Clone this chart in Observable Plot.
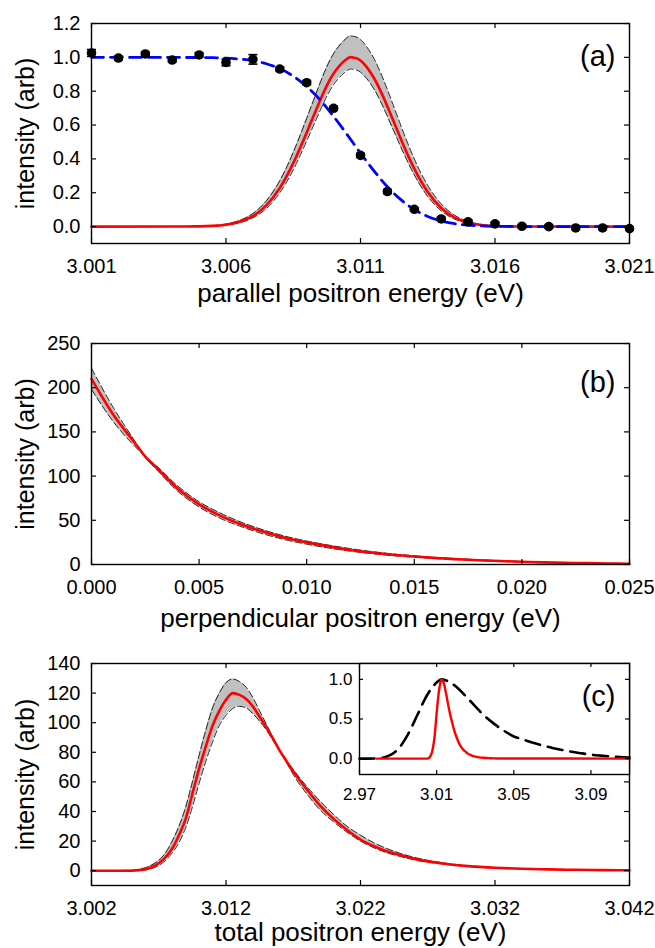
<!DOCTYPE html>
<html><head><meta charset="utf-8">
<script src="https://cdn.jsdelivr.net/npm/d3@7"></script>
<script src="https://cdn.jsdelivr.net/npm/@observablehq/plot@0.6"></script>
<style>
body{margin:0;background:#fff}
#wrap{position:relative;width:655px;height:948px;overflow:hidden;background:#fff}
#wrap>div,#wrap>svg{position:absolute}
</style>
</head><body><div id="wrap"></div>
<script>
// ---------- Panel (a): parallel energy ----------
const aTicksX = [3.001, 3.006, 3.011, 3.016, 3.021];
const aTicksY = [0, 0.2, 0.4, 0.6, 0.8, 1.0, 1.2];
const aPointX = [3.001,3.002,3.003,3.004,3.005,3.006,3.007,3.008,3.009,3.010,3.011,3.012,3.013,3.014,3.015,3.016,3.017,3.018,3.019,3.020,3.021];
const aPointY = [1.026,0.996,1.02,0.984,1.014,0.97,0.988,0.931,0.85,0.699,0.421,0.207,0.102,0.045,0.028,0.016,0.002,0.0,-0.008,-0.008,-0.012];
const aPointErr = [0.02,0.012,0.012,0.012,0.012,0.02,0.028,0.012,0.012,0.012,0.012,0.012,0.01,0.01,0.01,0.01,0.01,0.01,0.01,0.01,0.01];
const aCurveX = [3.001,3.004,3.0045,3.005,3.0055,3.006,3.0065,3.007,3.0075,3.008,3.0085,3.009,3.0095,3.010,3.0105,3.0107,3.011,3.0115,3.012,3.0125,3.013,3.0135,3.014,3.0145,3.015,3.0155,3.016,3.0165,3.017,3.021];
const aRed   = [0,0.0001,0.0004,0.0014,0.004,0.011,0.028,0.062,0.125,0.228,0.375,0.556,0.747,0.905,0.992,1.0,0.982,0.878,0.71,0.518,0.342,0.204,0.11,0.053,0.024,0.009,0.003,0.001,0.0003,0];
const aUpper = [0,0.0002,0.0006,0.002,0.0057,0.015,0.036,0.077,0.152,0.271,0.439,0.64,0.849,1.022,1.116,1.125,1.105,0.993,0.809,0.597,0.4,0.243,0.134,0.067,0.03,0.0125,0.0047,0.0016,0.0005,0];
const aLower = [0,0.0001,0.0003,0.001,0.0031,0.0089,0.0225,0.052,0.107,0.2,0.335,0.506,0.686,0.839,0.922,0.93,0.912,0.813,0.651,0.47,0.305,0.178,0.093,0.044,0.0188,0.0072,0.0025,0.0008,0.0002,0];
const aFitX = [3.001,3.005,3.0055,3.006,3.0065,3.007,3.0075,3.008,3.0085,3.009,3.0095,3.010,3.0105,3.011,3.0115,3.012,3.0125,3.013,3.0135,3.014,3.0145,3.015,3.0155,3.016,3.0165,3.017,3.021];
const aFitY = [1.0,0.999,0.998,0.9955,0.99,0.98,0.962,0.933,0.889,0.827,0.748,0.651,0.544,0.434,0.329,0.235,0.159,0.101,0.06,0.033,0.017,0.0084,0.0038,0.0016,0.0006,0.0002,0];

// ---------- Panel (b): perpendicular energy ----------
const bTicksX = [0, 0.005, 0.010, 0.015, 0.020, 0.025];
const bTicksY = [0, 50, 100, 150, 200, 250];
const bX   = [0,0.001,0.002,0.0025,0.003,0.004,0.005,0.006,0.007,0.008,0.009,0.010,0.011,0.012,0.013,0.014,0.015,0.016,0.017,0.018,0.019,0.020,0.021,0.022,0.023,0.024,0.025];
const bRed = [210,170,138,122,110,86,68,55,45,37,30,25,20.5,16.5,13.5,11,9,7.3,6,4.8,3.9,3.1,2.4,1.9,1.5,1.2,0.9];
const bEdgeA = [222,178,140,121,108,83,65,52,42.5,34.5,28,23,18.7,15.2,12.3,10,8.2,6.6,5.4,4.3,3.5,2.8,2.2,1.8,1.4,1.1,0.9];
const bEdgeB = [198,162,134,122,112,89,71,58,47.5,39,32,26.5,22,18,14.7,12,9.8,8,6.6,5.3,4.3,3.4,2.7,2.1,1.7,1.3,1.0];

// ---------- Panel (c): total energy ----------
const cTicksX = [3.002, 3.012, 3.022, 3.032, 3.042];
const cTicksY = [0, 20, 40, 60, 80, 100, 120, 140];
const cX = [3.002,3.005,3.0055,3.006,3.0065,3.007,3.0075,3.008,3.0085,3.009,3.0095,3.010,3.0105,3.011,3.0115,3.012,3.0125,3.013,3.0135,3.014,3.0145,3.015,3.0155,3.016,3.0165,3.017,3.0175,3.018,3.019,3.020,3.021,3.022,3.023,3.024,3.025,3.026,3.027,3.028,3.029,3.030,3.032,3.034,3.036,3.038,3.040,3.042];
const cRed = [0,0,0.3,1,2.5,5,9,15,24,35,52,69,84,98,108,115.5,120,118.8,116,111,104,97,89,81,74,67,61,55,44,35,27.5,21,16.5,13,10.5,8,6.3,5,3.9,3.1,2,1.3,0.9,0.6,0.4,0.3];
const cUpper = [0,0.3,1,2,4,7,12,20,30,43,60,78,95,110,120,127,129.5,127.8,124,117,108,99,90,81,73,65,58,52,41,33,26,20,15.5,12,9.5,7.4,5.8,4.6,3.6,2.9,1.8,1.2,0.8,0.5,0.35,0.25];
const cLower = [0,0,0.1,0.5,1.5,3.5,7,12,19,29,43,59,74,87,98,105,109.5,111,110,106,101,95,88,81,74.5,68.5,62.5,57,47,38,30,24,18.8,14.8,11.6,9,7,5.5,4.3,3.4,2.2,1.4,0.95,0.65,0.45,0.3];

// ---------- Inset of (c) ----------
const insTicksX = [2.97, 3.01, 3.05, 3.09];
const insTicksY = [0, 0.5, 1.0];
const insBlackX = [2.970,2.975,2.980,2.985,2.990,2.995,3.000,3.005,3.010,3.0125,3.015,3.020,3.025,3.030,3.035,3.040,3.045,3.050,3.055,3.060,3.065,3.070,3.075,3.080,3.085,3.090,3.095,3.100,3.105,3.110];
const insBlackY = [0,0,0.005,0.035,0.12,0.3,0.55,0.8,0.96,1.0,0.985,0.91,0.79,0.66,0.535,0.435,0.35,0.28,0.24,0.2,0.165,0.135,0.11,0.087,0.068,0.05,0.038,0.028,0.02,0.015];
const insRedStartX = 2.979;
const insRedEndX = 3.11;

// ---------- helpers ----------
const FONT = "'Liberation Sans', Arial, Helvetica, sans-serif";
const zip = (xs, ys) => xs.map((x, i) => ({x, y: ys[i]}));
const RED = "#ff0000", BLUE = "#0000ff", GREY = "#c0c0c0";

function inwardTicks(xt, yt, fw, fh, len, sw) {
  return [
    Plot.tickX(xt, {x: d => d, insetTop: fh - len, stroke: "black", strokeWidth: sw}),
    Plot.tickX(xt, {x: d => d, insetBottom: fh - len, stroke: "black", strokeWidth: sw}),
    Plot.tickY(yt, {y: d => d, insetRight: fw - len, stroke: "black", strokeWidth: sw}),
    Plot.tickY(yt, {y: d => d, insetLeft: fw - len, stroke: "black", strokeWidth: sw})
  ];
}

function panel(o) {
  const ML = 91, MR = 26, MT = 23;
  const fw = 655 - ML - MR, fh = o.height - MT - o.marginBottom;
  const marks = [
    ...o.marks,
    ...inwardTicks(o.xTicks, o.yTicks, fw, fh, 5, 1.2),
    Plot.frame({stroke: "black", strokeWidth: 1.4}),
    Plot.axisX(o.xTicks, {tickSize: 0, tickPadding: 15, tickFormat: o.xFmt}),
    Plot.axisY(o.yTicks, {tickSize: 0, tickPadding: 11, tickFormat: o.yFmt}),
    Plot.text(["intensity (arb)"], {frameAnchor: "left", rotate: -90, dx: -66, textAnchor: "middle", lineAnchor: "middle", fontSize: 25}),
    Plot.text([o.xTitle], {frameAnchor: "bottom", dy: o.xTitleDy, textAnchor: "middle", lineAnchor: "middle", fontSize: 26})
  ];
  if (o.tag) marks.push(Plot.text([o.tag], {frameAnchor: "top-right", dx: -14, dy: o.tagDy, textAnchor: "end", lineAnchor: "middle", fontSize: 29}));
  return Plot.plot({
    width: 655, height: o.height,
    marginLeft: ML, marginRight: MR, marginTop: MT, marginBottom: o.marginBottom,
    style: {fontFamily: FONT, fontSize: "20px", color: "black", background: "white", overflow: "visible"},
    x: {domain: o.xDomain, label: null},
    y: {domain: o.yDomain, label: null},
    marks
  });
}

const capSymbol = {draw(ctx) { ctx.moveTo(-4.5, 0); ctx.lineTo(4.5, 0); }};
const wrap = document.getElementById("wrap");
function place(el, left, top) { el.style.position = "absolute"; el.style.left = left + "px"; el.style.top = top + "px"; wrap.appendChild(el); }

// ---------- build (a) ----------
const aPts = aPointX.map((x, i) => ({x, y: aPointY[i], e: aPointErr[i]}));
const aCurve = aCurveX.map((x, i) => ({x, red: aRed[i], hi: aUpper[i], lo: aLower[i]}));
const aFit = zip(aFitX, aFitY);
const edge = {stroke: "#111", strokeWidth: 0.9, strokeDasharray: "7,3", curve: "monotone-x"};

const plotA = panel({
  height: 320, marginBottom: 77,
  xDomain: [3.001, 3.021], yDomain: [-0.1, 1.2],
  xTicks: aTicksX, yTicks: aTicksY, xFmt: d3.format(".3f"), yFmt: d3.format(".1f"),
  xTitle: "parallel positron energy (eV)", xTitleDy: 50, tag: "(a)", tagDy: 33,
  marks: [
    Plot.areaY(aCurve, {x: "x", y1: "lo", y2: "hi", fill: GREY, curve: "natural"}),
    Plot.line(aCurve, {x: "x", y: "hi", ...edge, curve: "natural"}),
    Plot.line(aCurve, {x: "x", y: "lo", ...edge, curve: "natural"}),
    Plot.line(aCurve, {x: "x", y: "red", stroke: RED, strokeWidth: 2.6, curve: "natural"}),
    Plot.line(aFit, {x: "x", y: "y", stroke: BLUE, strokeWidth: 2.8, strokeDasharray: "12,7", curve: "monotone-x"}),
    Plot.ruleX(aPts, {x: "x", y1: d => d.y - d.e, y2: d => d.y + d.e, stroke: "black", strokeWidth: 1.6}),
    Plot.dot(aPts, {x: "x", y: d => d.y + d.e, symbol: capSymbol, r: 3, stroke: "black", fill: "none", strokeWidth: 1.6}),
    Plot.dot(aPts, {x: "x", y: d => d.y - d.e, symbol: capSymbol, r: 3, stroke: "black", fill: "none", strokeWidth: 1.6}),
    Plot.dot(aPts, {x: "x", y: "y", r: 4.8, fill: "black", stroke: "none"})
  ]
});
place(plotA, 0, 0);

// ---------- build (b) ----------
const bData = bX.map((x, i) => ({x, red: bRed[i], a: bEdgeA[i], b: bEdgeB[i]}));
const plotB = panel({
  height: 320, marginBottom: 76,
  xDomain: [0, 0.025], yDomain: [0, 250],
  xTicks: bTicksX, yTicks: bTicksY, xFmt: d3.format(".3f"), yFmt: d3.format("d"),
  xTitle: "perpendicular positron energy (eV)", xTitleDy: 54, tag: "(b)", tagDy: 39,
  marks: [
    Plot.areaY(bData, {x: "x", y1: "a", y2: "b", fill: GREY, curve: "monotone-x"}),
    Plot.line(bData, {x: "x", y: "a", ...edge}),
    Plot.line(bData, {x: "x", y: "b", ...edge}),
    Plot.line(bData, {x: "x", y: "red", stroke: RED, strokeWidth: 2.6, curve: "monotone-x"})
  ]
});
place(plotB, 0, 320);

// ---------- build (c) ----------
const cData = cX.map((x, i) => ({x, red: cRed[i], hi: cUpper[i], lo: cLower[i]}));
const plotC = panel({
  height: 308, marginBottom: 63,
  xDomain: [3.002, 3.042], yDomain: [-10, 140],
  xTicks: cTicksX, yTicks: cTicksY, xFmt: d3.format(".3f"), yFmt: d3.format("d"),
  xTitle: "total positron energy (eV)", xTitleDy: 47, tag: null,
  marks: [
    Plot.areaY(cData, {x: "x", y1: "lo", y2: "hi", fill: GREY, curve: "monotone-x"}),
    Plot.line(cData, {x: "x", y: "hi", ...edge}),
    Plot.line(cData, {x: "x", y: "lo", ...edge}),
    Plot.line(cData, {x: "x", y: "red", stroke: RED, strokeWidth: 2.6, curve: "monotone-x"})
  ]
});
place(plotC, 0, 640);

// ---------- inset ----------
const redMax = d3.max(cRed);
const insRed = [{x: insRedStartX, y: 0}, ...cX.map((x, i) => ({x, y: cRed[i] / redMax})), {x: insRedEndX, y: 0}];
const insBlack = zip(insBlackX, insBlackY);
const IML = 45, IMR = 5, IMT = 5, IMB = 35, IW = 320, IH = 151;
const ifw = IW - IML - IMR, ifh = IH - IMT - IMB;
const inset = Plot.plot({
  width: IW, height: IH, marginLeft: IML, marginRight: IMR, marginTop: IMT, marginBottom: IMB,
  style: {fontFamily: FONT, fontSize: "17px", color: "black", background: "transparent", overflow: "visible"},
  x: {domain: [2.97, 3.11], label: null},
  y: {domain: [-0.2, 1.2], label: null},
  marks: [
    Plot.frame({fill: "white", stroke: "none"}),
    Plot.line(insBlack, {x: "x", y: "y", stroke: "black", strokeWidth: 2.6, strokeDasharray: "15,8", curve: "monotone-x"}),
    Plot.line(insRed, {x: "x", y: "y", stroke: RED, strokeWidth: 2.4, curve: "monotone-x"}),
    ...inwardTicks(insTicksX, insTicksY, ifw, ifh, 4, 1.2),
    Plot.frame({stroke: "black", strokeWidth: 1.4}),
    Plot.axisX(insTicksX, {tickSize: 0, tickPadding: 13, tickFormat: d3.format(".2f")}),
    Plot.axisY(insTicksY, {tickSize: 0, tickPadding: 7, tickFormat: d3.format(".1f")}),
    Plot.text(["(c)"], {frameAnchor: "top-right", dx: -14, dy: 33, textAnchor: "end", lineAnchor: "middle", fontSize: 29})
  ]
});
place(inset, 359 - IML, 663 - IMT);
</script>
</body></html>
